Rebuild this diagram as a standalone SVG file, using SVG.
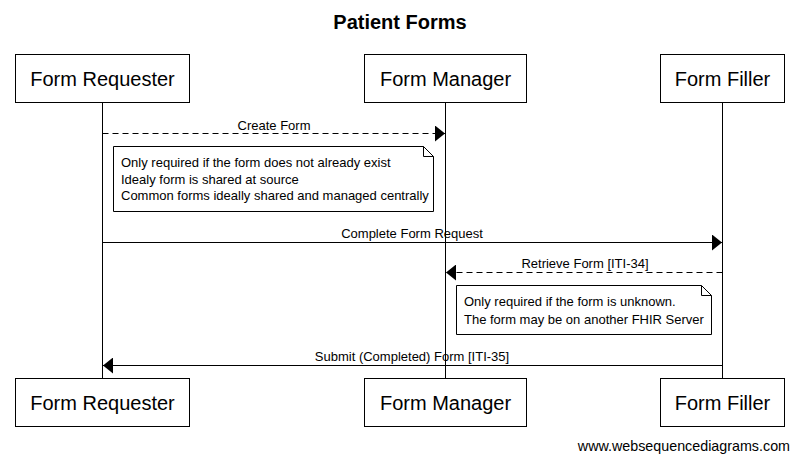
<svg xmlns="http://www.w3.org/2000/svg" width="799" height="461" viewBox="0 0 799 461">
<style>
text{font-family:"Liberation Sans",Arial,sans-serif;fill:#000}
.title{font-size:20px;font-weight:bold;text-anchor:middle}
.actor rect{fill:#fff;stroke:#000;stroke-width:1}
.actor text{font-size:20px;text-anchor:middle}
.life{stroke:#000;stroke-width:1}
.msg{stroke:#000;stroke-width:1;fill:none}
.dash{stroke-dasharray:6,4}
.lbl{font-size:13px;text-anchor:middle}
.note path{fill:#fff;stroke:#000;stroke-width:1}
.note text{font-size:13px}
.foot{font-size:14.3px;text-anchor:end}
</style>
<defs>
<marker id="ah" viewBox="0 0 10 16" refX="10" refY="8" markerWidth="10" markerHeight="16" markerUnits="userSpaceOnUse" orient="auto">
<path d="M0,0 L10,8 L0,16 Z" fill="#000"/>
</marker>
</defs>
<rect width="799" height="461" fill="#fff"/>
<text class="title" x="400" y="29">Patient Forms</text>
<g id="lifelines">
<line class="life" x1="102.5" y1="102" x2="102.5" y2="378"/>
<line class="life" x1="445.5" y1="102" x2="445.5" y2="378"/>
<line class="life" x1="722.5" y1="102" x2="722.5" y2="378"/>
</g>
<g id="actor-requester-top" class="actor"><rect x="15.5" y="54.5" width="174" height="48"/><text x="102.5" y="86">Form Requester</text></g>
<g id="actor-manager-top" class="actor"><rect x="364.5" y="54.5" width="162" height="48"/><text x="445.5" y="86">Form Manager</text></g>
<g id="actor-filler-top" class="actor"><rect x="660.5" y="54.5" width="124" height="48"/><text x="722.5" y="86">Form Filler</text></g>
<g id="actor-requester-bottom" class="actor"><rect x="15.5" y="378.5" width="174" height="48"/><text x="102.5" y="410">Form Requester</text></g>
<g id="actor-manager-bottom" class="actor"><rect x="364.5" y="378.5" width="162" height="48"/><text x="445.5" y="410">Form Manager</text></g>
<g id="actor-filler-bottom" class="actor"><rect x="660.5" y="378.5" width="124" height="48"/><text x="722.5" y="410">Form Filler</text></g>
<g id="connectors">
<line class="msg dash" x1="102.5" y1="133.5" x2="445" y2="133.5" marker-end="url(#ah)"/>
<text class="lbl" x="274" y="130">Create Form</text>
<line class="msg" x1="102.5" y1="242.5" x2="722" y2="242.5" marker-end="url(#ah)"/>
<text class="lbl" x="412" y="238">Complete Form Request</text>
<line class="msg dash" x1="722.5" y1="272.5" x2="446" y2="272.5" marker-end="url(#ah)"/>
<text class="lbl" x="585" y="268">Retrieve Form [ITI-34]</text>
<line class="msg" x1="722.5" y1="365.5" x2="103" y2="365.5" marker-end="url(#ah)"/>
<text class="lbl" x="412" y="361">Submit (Completed) Form [ITI-35]</text>
</g>
<g id="note-1" class="note">
<path d="M113.5,146.5 H423.5 L433.5,156.5 V211.5 H113.5 Z M423.5,146.5 V156.5 H433.5"/>
<text x="121" y="167">Only required if the form does not already exist</text>
<text x="121" y="184">Idealy form is shared at source</text>
<text x="121" y="200">Common forms ideally shared and managed centrally</text>
</g>
<g id="note-2" class="note">
<path d="M456.5,285.5 H701.5 L711.5,295.5 V334.5 H456.5 Z M701.5,285.5 V295.5 H711.5"/>
<text x="464" y="306">Only required if the form is unknown.</text>
<text x="464" y="324">The form may be on another FHIR Server</text>
</g>
<text class="foot" x="790" y="451">www.websequencediagrams.com</text>
</svg>
